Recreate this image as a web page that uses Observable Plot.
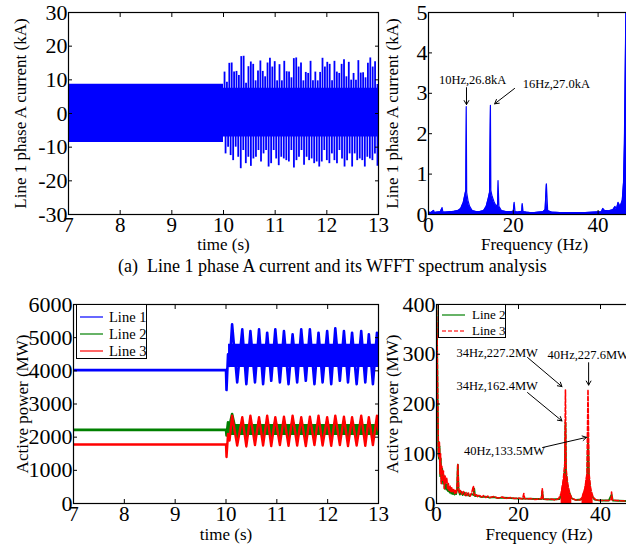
<!DOCTYPE html>
<html><head><meta charset="utf-8">
<script src="https://cdn.jsdelivr.net/npm/d3@7"></script>
<script src="https://cdn.jsdelivr.net/npm/@observablehq/plot@0.6"></script>
<style>
html,body{margin:0;padding:0;background:#fff;}
#fig{position:relative;width:626px;height:546px;overflow:hidden;font-family:"Liberation Serif","Times New Roman",serif;background:#fff;}
.panel{position:absolute;}
.panel svg{overflow:visible;max-width:none !important;}
.legend{position:absolute;border:1.5px solid #000;background:#fff;box-sizing:border-box;overflow:hidden;}
.caption{position:absolute;white-space:nowrap;font-size:18px;}
</style></head>
<body><div id="fig"></div>
<script>
// ---------- data ----------
// (a) top-left: Line 1 phase A current (kA)
const currentTimeTicks = [7, 8, 9, 10, 11, 12, 13];
const currentTicks = [-30, -20, -10, 0, 10, 20, 30];
const steadyTimes = [7, 10];
const steadyHigh = 8.7, steadyLow = -8.6;
const disturbedTimes = [10, 13];
const disturbedHigh = 7.5, disturbedLow = -7.0;
const upperSpikes = [12.3, 9.3, 14.9, 15.0, 12.3, 12.5, 11.3, 16.9, 17.0, 9.0, 13.9, 15.3, 14.6, 9.7, 12.6, 15.6, 12.5, 10.9, 15.0, 16.4, 13.8, 15.4, 9.7, 14.5, 9.7, 15.5, 12.4, 12.3, 10.6, 16.3, 16.5, 13.8, 15.0, 9.7, 12.2, 11.9, 15.5, 9.7, 12.3, 9.7, 12.2, 16.4, 13.8, 15.2, 14.6, 9.7, 15.5, 12.3, 11.9, 14.6, 16.0, 10.9, 15.2, 9.9, 11.9, 9.9, 15.7, 12.0, 12.1, 10.6, 14.9, 16.5, 13.8, 15.4, 8.6];
const lowerSpikes = [-12.0, -10.0, -12.5, -14.0, -10.0, -13.0, -16.4, -11.0, -14.9, -13.0, -15.7, -13.5, -13.0, -11.0, -14.4, -12.0, -11.0, -15.9, -14.9, -11.0, -13.5, -15.5, -13.0, -13.5, -14.0, -14.4, -11.0, -16.2, -14.0, -13.0, -11.0, -15.4, -13.0, -14.0, -13.5, -14.9, -14.4, -15.9, -14.4, -11.0, -14.0, -14.9, -12.0, -14.0, -14.9, -11.0, -13.5, -15.9, -14.0, -12.0, -15.9, -12.0, -14.0, -13.5, -14.0, -15.9, -13.0, -13.5, -14.0, -12.0, -15.7];

// (a) top-right: WFFT spectrum of current [Hz, kA]
const freqTicksTop = [0, 20, 40];
const spectrumTicks = [0, 1, 2, 3, 4, 5];
const currentSpectrum = [[0,0.06],[0.6,0.05],[1.2,0.1],[1.4,0.05],[2,0.06],[2.8,0.07],[3.2,0.17],[3.4,0.06],[4,0.06],[5,0.07],[6,0.08],[7,0.1],[7.6,0.15],[8.2,0.3],[8.6,0.5],[8.8,0.6],[8.9,2.67],[9.0,0.55],[9.3,0.35],[9.7,0.2],[10.3,0.1],[11,0.08],[12,0.07],[13,0.1],[13.6,0.2],[14.1,0.4],[14.4,0.55],[14.6,2.7],[14.7,0.6],[15.0,0.45],[15.5,0.3],[16.0,0.2],[16.3,0.25],[16.4,0.84],[16.6,0.2],[17.2,0.1],[18,0.08],[19,0.07],[20,0.08],[20.2,0.3],[20.4,0.07],[21,0.06],[22.0,0.08],[22.1,0.27],[22.3,0.07],[23,0.06],[24,0.05],[25,0.05],[26,0.06],[27,0.07],[27.5,0.12],[27.8,0.76],[28.1,0.1],[29,0.06],[31,0.05],[33,0.05],[35,0.05],[37,0.05],[39,0.06],[40.8,0.07],[41.1,0.15],[41.5,0.1],[42.5,0.09],[43.5,0.12],[44,0.2],[44.3,0.12],[44.7,0.3],[45.2,0.2],[45.7,0.35],[46.0,0.8],[46.2,1.76],[46.6,5.5],[47,6],[50,6]];
const currentNotes = [
  {f: 10.4, a: 3.34, label: "10Hz,26.8kA", anchor: "middle"},
  {f: 22.2, a: 3.22, label: "16Hz,27.0kA", anchor: "start"}
];
const currentArrows = [
  {f1: 8.96, a1: 3.14, f2: 8.96, a2: 2.72},
  {f1: 20.3, a1: 3.12, f2: 15.6, a2: 2.74}
];

// (b) bottom-left: active power (MW)
const powerTimeTicks = [7, 8, 9, 10, 11, 12, 13];
const powerTicks = [0, 1000, 2000, 3000, 4000, 5000, 6000];
const powerTimes = [7.0, 10.00, 10.01, 10.04, 10.07, 10.12, 10.22, 10.32, 10.40, 10.48, 10.57, 10.65, 10.73, 10.81, 10.89, 10.97, 11.06, 11.14, 11.23, 11.31, 11.40, 11.48, 11.57, 11.65, 11.74, 11.82, 11.90, 11.99, 12.07, 12.15, 12.24, 12.32, 12.40, 12.48, 12.57, 12.66, 12.74, 12.81, 12.89, 12.97, 13.0];
const line1Power = [4020, 4020, 3420, 4500, 4150, 5400, 3650, 5250, 3600, 5200, 3650, 5250, 3600, 5150, 3700, 5250, 3650, 5200, 3600, 5100, 3650, 5250, 3700, 5250, 3600, 5150, 3650, 5200, 3600, 5280, 3700, 5200, 3650, 5150, 3600, 5200, 3650, 5100, 3600, 5150, 4300];
const line2Power = [2220, 2220, 2050, 2450, 2350, 2700, 2000, 2450, 1980, 2450, 2000, 2480, 1990, 2450, 2000, 2470, 1980, 2450, 2000, 2480, 1990, 2450, 2000, 2460, 1990, 2450, 1980, 2470, 2000, 2450, 1990, 2480, 2000, 2450, 1980, 2460, 2000, 2450, 1990, 2470, 2200];
const line3Power = [1780, 1780, 1400, 2100, 1900, 2650, 1750, 2600, 1720, 2650, 1760, 2600, 1750, 2650, 1730, 2600, 1760, 2620, 1740, 2650, 1750, 2600, 1730, 2620, 1760, 2650, 1750, 2600, 1740, 2650, 1760, 2620, 1730, 2600, 1750, 2650, 1740, 2600, 1760, 2650, 2200];
const line1Core = [4100, 4800], line2Core = [2050, 2380];
const coreTimes = [10.05, 13];
const powerSeries = ["Line 1", "Line 2", "Line 3"];

// (b) bottom-right: spectra of active power [Hz, MW]
const freqTicksBottom = [0, 20, 40];
const powerSpecTicks = [0, 100, 200, 300, 400];
const line2Spectrum = [[0,400],[0.15,320],[0.3,200],[0.45,100],[0.6,90],[0.75,115],[0.9,55],[1.05,90],[1.2,45],[1.4,70],[1.6,40],[1.8,55],[2.0,30],[2.2,42],[2.4,28],[2.6,38],[2.8,25],[3.0,33],[3.2,22],[3.4,30],[3.6,20],[3.8,28],[4.0,19],[4.2,26],[4.4,18],[4.6,24],[4.8,19],[5.0,28],[5.2,78],[5.4,26],[5.7,18],[6,24],[6.4,17],[6.8,22],[7.2,16],[7.6,20],[8,15],[8.5,19],[9,17],[9.2,30],[9.4,15],[10,16],[11,13],[12,14],[13,12],[14,13],[15,11],[16,12],[18,11],[20,10],[22,10],[24,9],[25.6,9],[25.8,25],[26,9],[28,8],[30,9],[30.6,20],[31.0,40],[31.3,70],[31.45,163],[31.6,60],[32,30],[33,10],[34,7],[36,9],[36.5,30],[36.8,50],[36.95,133],[37.2,50],[37.6,20],[38.5,8],[40,6],[42,6],[42.7,18],[43,6],[46,5],[50,5]];
const line3Spectrum = [[0,400],[0.15,330],[0.3,210],[0.45,110],[0.55,95],[0.7,125],[0.85,60],[1.0,100],[1.15,40],[1.3,75],[1.5,45],[1.7,65],[1.9,30],[2.1,55],[2.3,40],[2.5,52],[2.7,30],[2.9,40],[3.1,26],[3.3,35],[3.5,24],[3.7,32],[3.9,22],[4.2,28],[4.4,20],[4.6,26],[4.8,21],[5.0,30],[5.2,80],[5.4,30],[5.6,20],[5.8,26],[6.2,19],[6.5,24],[6.9,17],[7.2,22],[7.5,16],[7.8,21],[8.2,15],[8.6,22],[9.0,35],[9.2,16],[9.6,19],[10,14],[10.5,17],[11,13],[11.5,16],[12,12],[12.5,15],[13,12],[14,14],[15,11],[16,13],[17,10],[18,12],[19,10],[20,11],[21,9],[21.3,20],[21.5,10],[22,9],[23,10],[24,8],[25,9],[25.6,10],[25.8,30],[26,9],[27,8],[28,9],[29,7],[29.8,10],[30.4,20],[30.9,45],[31.3,80],[31.45,228],[31.6,70],[32,40],[32.5,20],[33,10],[34,7],[35,7],[35.5,12],[36.2,30],[36.7,60],[36.95,229],[37.2,60],[37.6,30],[38.2,12],[39,7],[40,6],[41,6],[42,6],[42.6,8],[42.7,23],[42.9,7],[44,6],[46,5],[48,5],[50,5]];
const skirtRanges = [[30.3, 33.0], [35.4, 38.3]];
const powerNotes = [
  {f: 14.8, a: 303.5, label: "34Hz,227.2MW", anchor: "middle"},
  {f: 27.1, a: 297.5, label: "40Hz,227.6MW", anchor: "start"},
  {f: 14.8, a: 237, label: "34Hz,162.4MW", anchor: "middle"},
  {f: 16.6, a: 106.5, label: "40Hz,133.5MW", anchor: "middle"}
];
const powerArrows = [
  {f1: 22.2, a1: 293.5, f2: 30.6, a2: 235},
  {f1: 37.1, a1: 283, f2: 37.1, a2: 238},
  {f1: 22.2, a1: 223, f2: 30.6, a2: 166},
  {f1: 25.9, a1: 112.6, f2: 36.6, a2: 133}
];
const spectrumSeries = ["Line 2", "Line 3"];

// ---------- drawing ----------
const FONT = "Liberation Serif";
const BLUE = "#0000ff", GREEN = "#008000", RED = "#ff0000";
const fig = document.getElementById("fig");

function notes(data, opts) {
  return ["start", "middle", "end"].map(a =>
    Plot.text(data.filter(d => d.anchor === a), {x: "f", y: "a", text: "label", textAnchor: a, fontSize: 12.5, ...opts}));
}

function panel(o) {
  const p = Plot.plot({
    width: o.width, height: o.height,
    marginLeft: o.mL, marginRight: o.mR, marginTop: o.mT, marginBottom: o.mB,
    x: {domain: o.xDomain},
    y: {domain: o.yDomain},
    style: {fontFamily: FONT, color: "black", background: "transparent", overflow: "visible", maxWidth: "none"},
    marks: [
      ...o.marks,
      Plot.frame({stroke: "black", strokeWidth: 1.2}),
      Plot.axisX(o.xTicks, {anchor: "bottom", tickSize: 4, dy: -4, tickFormat: () => "", label: null}),
      Plot.axisX(o.xTicks, {anchor: "top", tickSize: 4, dy: 4, tickFormat: () => "", label: null}),
      Plot.axisY(o.yTicks, {anchor: "left", tickSize: 4, dx: 4, tickFormat: () => "", label: null}),
      Plot.axisY(o.yTicks, {anchor: "right", tickSize: 4, dx: -4, tickFormat: () => "", label: null}),
      Plot.axisX(o.xTicks, {anchor: "bottom", tickSize: 0, tickPadding: 3, fontSize: 21, label: null, tickFormat: d => String(d)}),
      Plot.axisY(o.yTicks, {anchor: "left", tickSize: 0, tickPadding: 1, fontSize: 22, label: null, tickFormat: d => String(d), ariaLabel: "ylabels"}),
      Plot.text([o.xLabel], {frameAnchor: "bottom", dy: o.xLabelDy, fontSize: 17, textAnchor: "middle", lineAnchor: "middle", text: d => d}),
      Plot.text([o.yLabel], {frameAnchor: "left", dx: o.yLabelDx, rotate: -90, fontSize: 17, textAnchor: "middle", lineAnchor: "middle", text: d => d})
    ]
  });
  p.querySelectorAll('g[aria-label="ylabels"] text').forEach(t => { t.style.letterSpacing = "1.6px"; });
  const div = document.createElement("div");
  div.className = "panel";
  div.style.left = o.left + "px";
  div.style.top = o.top + "px";
  div.style.width = o.width + "px";
  div.style.height = o.height + "px";
  div.appendChild(p);
  fig.appendChild(div);
}

// top-left
const spikeTimesUp = upperSpikes.map((v, i) => ({t: 10.02 + i * 2.96 / (upperSpikes.length - 1), v}));
const spikeTimesDn = lowerSpikes.map((v, i) => ({t: 10.04 + i * 2.94 / (lowerSpikes.length - 1), v}));
panel({
  left: 0, top: 0, width: 380, height: 255, mL: 68, mR: 2, mT: 12, mB: 41,
  xDomain: [7, 13], yDomain: [-30, 30], xTicks: currentTimeTicks, yTicks: currentTicks,
  xLabel: "time (s)", xLabelDy: 30, yLabel: "Line 1 phase A current (kA)", yLabelDx: -48,
  marks: [
    Plot.areaY(steadyTimes, {x: d => d, y1: steadyLow, y2: steadyHigh, fill: BLUE, clip: true}),
    Plot.areaY(disturbedTimes, {x: d => d, y1: disturbedLow, y2: disturbedHigh, fill: BLUE, clip: true}),
    Plot.ruleX(spikeTimesUp, {x: "t", y1: 0, y2: "v", stroke: BLUE, strokeWidth: 1.8, clip: true}),
    Plot.ruleX(spikeTimesDn, {x: "t", y1: 0, y2: "v", stroke: BLUE, strokeWidth: 1.8, clip: true})
  ]
});

// top-right
panel({
  left: 370, top: 0, width: 272, height: 255, mL: 58, mR: 2, mT: 12, mB: 41,
  xDomain: [0, 50], yDomain: [0, 5], xTicks: freqTicksTop, yTicks: spectrumTicks,
  xLabel: "Frequency (Hz)", xLabelDy: 30, yLabel: "Line 1 phase A current (kA)", yLabelDx: -36,
  marks: [
    Plot.areaY(currentSpectrum, {x: d => d[0], y: d => d[1], fill: BLUE, clip: true}),
    Plot.line(currentSpectrum, {x: d => d[0], y: d => d[1], stroke: BLUE, strokeWidth: 1.2, clip: true}),
    ...notes(currentNotes),
    Plot.arrow(currentArrows, {x1: "f1", y1: "a1", x2: "f2", y2: "a2", stroke: "black", strokeWidth: 1, headLength: 7})
  ]
});

// bottom-left
const powerRows = powerTimes.map((t, i) => ({t, l1: line1Power[i], l2: line2Power[i], l3: line3Power[i]}));
panel({
  left: 0, top: 290, width: 380, height: 256, mL: 73, mR: 2, mT: 14, mB: 43,
  xDomain: [7, 13], yDomain: [0, 6000], xTicks: powerTimeTicks, yTicks: powerTicks,
  xLabel: "time (s)", xLabelDy: 31, yLabel: "Active power (MW)", yLabelDx: -51,
  marks: [
    Plot.areaY(coreTimes, {x: d => d, y1: line1Core[0], y2: line1Core[1], fill: BLUE, clip: true}),
    Plot.line(powerRows, {x: "t", y: "l1", stroke: BLUE, strokeWidth: 2.6, clip: true}),
    Plot.areaY(coreTimes, {x: d => d, y1: line2Core[0], y2: line2Core[1], fill: GREEN, clip: true}),
    Plot.line(powerRows, {x: "t", y: "l2", stroke: GREEN, strokeWidth: 2.6, clip: true}),
    Plot.line(powerRows, {x: "t", y: "l3", stroke: RED, strokeWidth: 2.4, clip: true})
  ]
});

// bottom-right
const skirt = line3Spectrum.filter(d => skirtRanges.some(([a, b]) => d[0] >= a && d[0] <= b));
panel({
  left: 370, top: 290, width: 273, height: 256, mL: 66, mR: 2, mT: 14, mB: 43,
  xDomain: [0, 50], yDomain: [0, 400], xTicks: freqTicksBottom, yTicks: powerSpecTicks,
  xLabel: "Frequency (Hz)", xLabelDy: 31, yLabel: "Active power (MW)", yLabelDx: -44,
  marks: [
    Plot.line(line2Spectrum, {x: d => d[0], y: d => d[1], stroke: GREEN, strokeWidth: 1.8, clip: true}),
    Plot.areaY(skirt.filter(d => d[0] <= 33), {x: d => d[0], y: d => Math.min(d[1], 60), fill: RED, clip: true}),
    Plot.areaY(skirt.filter(d => d[0] >= 35), {x: d => d[0], y: d => Math.min(d[1], 60), fill: RED, clip: true}),
    Plot.line(line3Spectrum, {x: d => d[0], y: d => d[1], stroke: RED, strokeWidth: 1.6, strokeDasharray: "4,2", clip: true}),
    ...notes(powerNotes),
    Plot.arrow(powerArrows, {x1: "f1", y1: "a1", x2: "f2", y2: "a2", stroke: "black", strokeWidth: 1, headLength: 7})
  ]
});

// legends
function legend(left, top, w, h, rowTop, rowStep, fontSize, lineEnd, textX, items) {
  const div = document.createElement("div");
  div.className = "legend";
  div.style.left = left + "px"; div.style.top = top + "px";
  div.style.width = w + "px"; div.style.height = h + "px";
  const ns = "http://www.w3.org/2000/svg";
  const svg = document.createElementNS(ns, "svg");
  svg.setAttribute("width", w); svg.setAttribute("height", h);
  svg.style.position = "absolute"; svg.style.left = "-1.5px"; svg.style.top = "-1.5px";
  items.forEach((it, i) => {
    const y = rowTop + i * rowStep;
    const ln = document.createElementNS(ns, "line");
    ln.setAttribute("x1", 4); ln.setAttribute("x2", lineEnd);
    ln.setAttribute("y1", y); ln.setAttribute("y2", y);
    ln.setAttribute("stroke", it.color); ln.setAttribute("stroke-width", 1.6);
    ln.setAttribute("stroke-opacity", 0.75);
    if (it.dash) ln.setAttribute("stroke-dasharray", it.dash);
    svg.appendChild(ln);
    const tx = document.createElementNS(ns, "text");
    tx.setAttribute("x", textX); tx.setAttribute("y", y + fontSize * 0.33);
    tx.setAttribute("font-family", FONT); tx.setAttribute("font-size", fontSize);
    tx.textContent = it.label;
    svg.appendChild(tx);
  });
  div.appendChild(svg);
  fig.appendChild(div);
}
legend(76, 304, 71, 55, 13, 17, 14.5, 27, 33, [
  {label: powerSeries[0], color: BLUE},
  {label: powerSeries[1], color: GREEN},
  {label: powerSeries[2], color: RED}
]);
legend(438, 304, 68, 34, 11, 16, 13, 27, 34, [
  {label: spectrumSeries[0], color: GREEN},
  {label: spectrumSeries[1], color: RED, dash: "4,2"}
]);

// caption
const cap = document.createElement("div");
cap.className = "caption";
cap.style.left = "118px"; cap.style.top = "256px";
cap.innerHTML = "(a)&nbsp;&nbsp;Line 1 phase A current and its WFFT spectrum analysis";
fig.appendChild(cap);
</script></body></html>
